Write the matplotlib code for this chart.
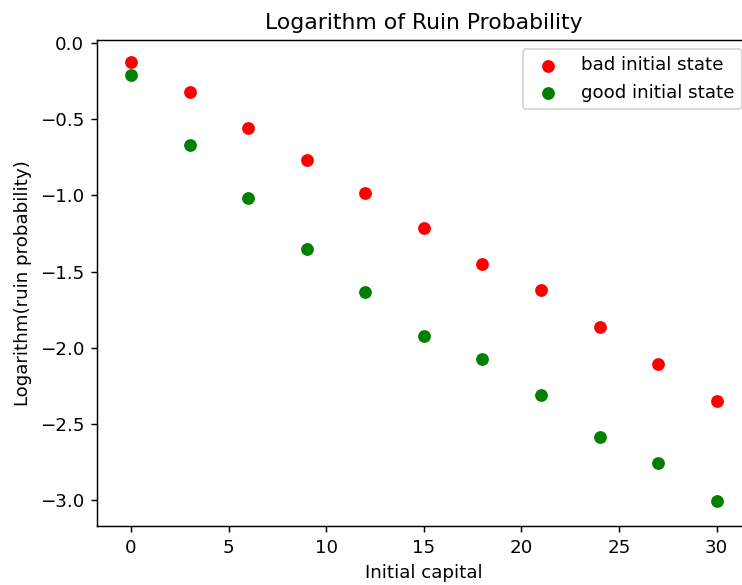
import numpy as np
import matplotlib
matplotlib.use("Agg")
import matplotlib.pyplot as plt

capital = [0, 3, 6, 9, 12, 15, 18, 21, 24, 27, 30]
log_ruin_bad = [-0.125, -0.32, -0.558, -0.768, -0.985, -1.215, -1.45, -1.62, -1.865, -2.108, -2.35]
log_ruin_good = [-0.21, -0.67, -1.018, -1.353, -1.635, -1.924, -2.075, -2.31, -2.587, -2.758, -3.007]

dpi = 131.5
fig = plt.figure(figsize=(742 / dpi, 585 / dpi), dpi=dpi)
# axes run a bit past the right edge (figure was cropped there)
ax = fig.add_axes([97 / 742, 59 / 585, 654 / 742, 486 / 585])

ax.scatter(capital, log_ruin_bad, color='red', label='bad initial state')
ax.scatter(capital, log_ruin_good, color='green', label='good initial state')
ax.set_xlim(-1.74, 31.76)
ax.set_ylim(-3.17, 0.02)
ax.set_title('Logarithm of Ruin Probability')
ax.set_xlabel('Initial capital')
ax.set_ylabel('Logarithm(ruin probability)')
ax.legend(loc='upper right')

fig.savefig('out.png', dpi=dpi)
